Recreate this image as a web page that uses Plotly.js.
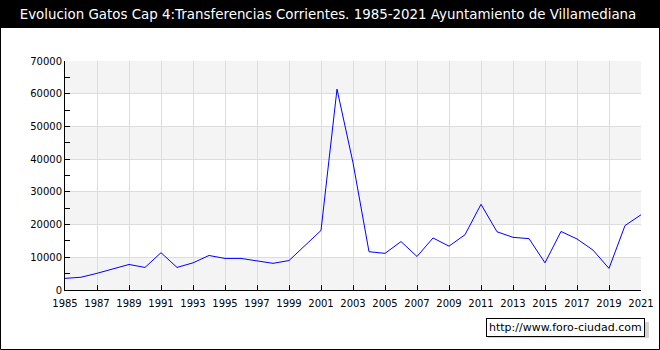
<!DOCTYPE html>
<html>
<head>
<meta charset="utf-8">
<script src="https://cdn.plot.ly/plotly-3.0.1.min.js"></script>
<style>
html,body{margin:0;padding:0;background:#fff;}
#chart{width:660px;height:350px;}
</style>
</head>
<body>
<div id="chart"></div>
<script>
const years = [1985,1986,1987,1988,1989,1990,1991,1992,1993,1994,1995,1996,1997,1998,1999,2000,2001,2002,2003,2004,2005,2006,2007,2008,2009,2010,2011,2012,2013,2014,2015,2016,2017,2018,2019,2020,2021];
const gastos = [3550,3900,5100,6500,7800,6900,11400,6900,8300,10550,9650,9650,8950,8150,9000,13700,18200,61400,38900,11700,11200,14800,10250,15900,13400,16900,26200,17800,16100,15700,8300,17900,15600,12200,6600,19700,23000];
const xTicks = [1985,1987,1989,1991,1993,1995,1997,1999,2001,2003,2005,2007,2009,2011,2013,2015,2017,2019,2021];
const yTicks = [0,10000,20000,30000,40000,50000,60000,70000];
const bandStarts = [0,20000,40000,60000];
const titleText = 'Evolucion Gatos Cap 4:Transferencias Corrientes. 1985-2021 Ayuntamiento de Villamediana';
const watermark = 'http://www.foro-ciudad.com';

const W = 576, H = 229, L = 65, T = 61;
const px = v => (v - L) / W;
const py = v => (T + H - v) / H;

const shapes = [];
bandStarts.forEach(b => shapes.push({type:'rect', xref:'paper', yref:'y', x0:0, x1:1, y0:b, y1:b+10000, fillcolor:'#f4f4f4', line:{width:0}, layer:'below'}));
// header bar
shapes.push({type:'rect', xref:'paper', yref:'paper', x0:px(0), x1:px(660), y0:py(28), y1:py(0), fillcolor:'#000', line:{width:0}, layer:'below'});
// outer border
shapes.push({type:'rect', xref:'paper', yref:'paper', x0:px(0.5), x1:px(659.5), y0:py(349.5), y1:py(0.5), fillcolor:'rgba(0,0,0,0)', line:{color:'#000', width:1}});
// watermark shadow
shapes.push({type:'rect', xref:'paper', yref:'paper', x0:px(488), x1:px(649), y0:py(338), y1:py(322), fillcolor:'#d4d4d4', line:{width:0}});

Plotly.newPlot('chart', [{
  x: years, y: gastos, type:'scatter', mode:'lines',
  line:{color:'#0000ff', width:1}, hoverinfo:'x+y'
}], {
  width:660, height:350,
  margin:{l:65, r:19, t:61, b:60},
  paper_bgcolor:'#ffffff', plot_bgcolor:'#ffffff',
  font:{family:'DejaVu Sans, Verdana, sans-serif', size:10, color:'#000'},
  showlegend:false,
  title:{text:titleText, font:{family:'DejaVu Sans, Verdana, sans-serif', size:13.4, color:'#ffffff'}, x:328/660, xanchor:'center', xref:'container', y:1-14/350, yanchor:'middle', yref:'container'},
  xaxis:{range:[1985,2021], tickvals:xTicks, ticktext:xTicks.map(String), ticks:'inside', ticklen:5, tickcolor:'#000', ticklabelstandoff:4, showline:true, linecolor:'#000', linewidth:1, showgrid:true, gridcolor:'#dddddd', gridwidth:1, zeroline:false, fixedrange:true},
  yaxis:{range:[0,70000], tickvals:yTicks, ticktext:yTicks.map(String), ticks:'inside', ticklen:5, tickcolor:'#000', showline:true, linecolor:'#000', linewidth:1, showgrid:true, gridcolor:'#dddddd', gridwidth:1, zeroline:false, fixedrange:true,
    minor:{dtick:5000, tick0:0, ticks:'inside', ticklen:5, tickcolor:'#000', showgrid:false}},
  shapes: shapes,
  annotations:[{text:watermark, xref:'paper', yref:'paper', x:px(565.5), y:py(327), xanchor:'center', yanchor:'middle', showarrow:false, bgcolor:'#ffffff', bordercolor:'#000', borderwidth:1, borderpad:2, font:{family:'DejaVu Sans, Verdana, sans-serif', size:11, color:'#000'}}]
}, {displayModeBar:false, staticPlot:true});
</script>
</body>
</html>
